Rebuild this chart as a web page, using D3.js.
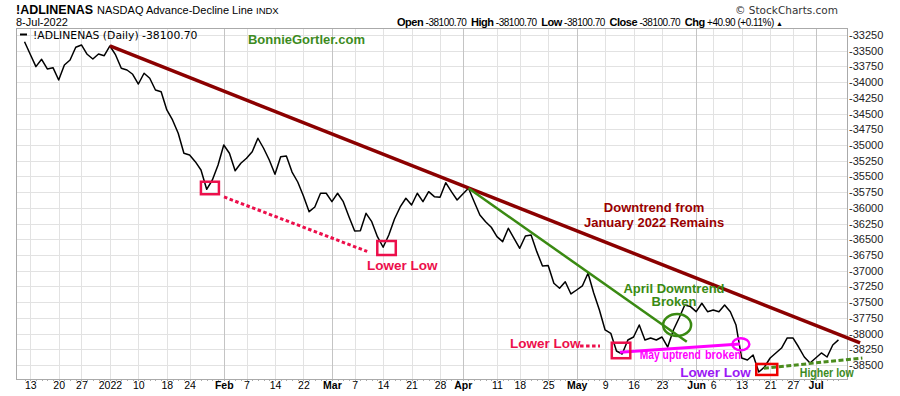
<!DOCTYPE html>
<html>
<head>
<meta charset="utf-8">
<script src="https://cdn.jsdelivr.net/npm/d3@7"></script>
<style>
  body { margin: 0; background: #fff; }
  svg { display: block; font-family: "Liberation Sans", Arial, sans-serif; }
</style>
</head>
<body>
<div id="chart"></div>
<script>
// trading days shown on the chart
const dates = [
  "2021-12-10","2021-12-13","2021-12-14","2021-12-15","2021-12-16","2021-12-17","2021-12-20","2021-12-21","2021-12-22","2021-12-23",
  "2021-12-27","2021-12-28","2021-12-29","2021-12-30","2021-12-31",
  "2022-01-03","2022-01-04","2022-01-05","2022-01-06","2022-01-07","2022-01-10","2022-01-11","2022-01-12","2022-01-13","2022-01-14",
  "2022-01-18","2022-01-19","2022-01-20","2022-01-21","2022-01-24","2022-01-25","2022-01-26","2022-01-27","2022-01-28","2022-01-31",
  "2022-02-01","2022-02-02","2022-02-03","2022-02-04","2022-02-07","2022-02-08","2022-02-09","2022-02-10","2022-02-11","2022-02-14",
  "2022-02-15","2022-02-16","2022-02-17","2022-02-18","2022-02-22","2022-02-23","2022-02-24","2022-02-25","2022-02-28",
  "2022-03-01","2022-03-02","2022-03-03","2022-03-04","2022-03-07","2022-03-08","2022-03-09","2022-03-10","2022-03-11","2022-03-14",
  "2022-03-15","2022-03-16","2022-03-17","2022-03-18","2022-03-21","2022-03-22","2022-03-23","2022-03-24","2022-03-25","2022-03-28",
  "2022-03-29","2022-03-30","2022-03-31",
  "2022-04-01","2022-04-04","2022-04-05","2022-04-06","2022-04-07","2022-04-08","2022-04-11","2022-04-12","2022-04-13","2022-04-14",
  "2022-04-18","2022-04-19","2022-04-20","2022-04-21","2022-04-22","2022-04-25","2022-04-26","2022-04-27","2022-04-28","2022-04-29",
  "2022-05-02","2022-05-03","2022-05-04","2022-05-05","2022-05-06","2022-05-09","2022-05-10","2022-05-11","2022-05-12","2022-05-13",
  "2022-05-16","2022-05-17","2022-05-18","2022-05-19","2022-05-20","2022-05-23","2022-05-24","2022-05-25","2022-05-26","2022-05-27",
  "2022-05-31",
  "2022-06-01","2022-06-02","2022-06-03","2022-06-06","2022-06-07","2022-06-08","2022-06-09","2022-06-10","2022-06-13","2022-06-14",
  "2022-06-15","2022-06-16","2022-06-17","2022-06-21","2022-06-22","2022-06-23","2022-06-24","2022-06-27","2022-06-28","2022-06-29",
  "2022-06-30",
  "2022-07-01","2022-07-05","2022-07-06","2022-07-07","2022-07-08"
];

// !ADLINENAS daily close
const values = [
  -33357,-33557,-33754,-33637,-33791,-33770,-33966,-33727,-33648,-33446,
  -33409,-33557,-33632,-33552,-33579,
  -33425,-33568,-33780,-33807,-33875,-34030,-33859,-33939,-34125,-34152,
  -34443,-34602,-34814,-35132,-35159,-35266,-35398,-35705,-35557,-35318,
  -35000,-35132,-35409,-35291,-35212,-35107,-34893,-35052,-35239,-35466,
  -35186,-35175,-35430,-35589,-35811,-36061,-35986,-35768,-35768,
  -35902,-35768,-35902,-36141,-36368,-36363,-36087,-36220,-36459,-36627,
  -36432,-36177,-35986,-35848,-35955,-35768,-35902,-35743,-35822,-35832,
  -35600,-35743,-35875,
  -35780,-35689,-35902,-36114,-36220,-36309,-36459,-36538,-36325,-36484,
  -36643,-36448,-36432,-36697,-36925,-36917,-37200,-37280,-37175,-37370,
  -37307,-37243,-37041,-37355,-37625,-37943,-37996,-38277,-38325,-38102,
  -38055,-37864,-38102,-38070,-38102,-38055,-38214,-37943,-37752,-37545,
  -37572,
  -37652,-37518,-37652,-37625,-37652,-37545,-37652,-37864,-38389,-38420,
  -38341,-38611,-38532,-38389,-38309,-38230,-38070,-38070,-38214,-38373,
  -38468,
  -38389,-38309,-38373,-38182,-38100.70
];

const tickDates = [
  "2021-12-13","2021-12-20","2021-12-27","2022-01-03","2022-01-10","2022-01-18","2022-01-24","2022-02-01",
  "2022-02-07","2022-02-14","2022-02-22","2022-03-01","2022-03-07","2022-03-14","2022-03-21","2022-03-28",
  "2022-04-01","2022-04-11","2022-04-18","2022-04-25","2022-05-02","2022-05-09","2022-05-16","2022-05-23",
  "2022-06-01","2022-06-06","2022-06-13","2022-06-21","2022-06-27","2022-07-01"
];
const tickLabels = [
  "13","20","27","2022","10","18","24","Feb","7","14","22","Mar","7","14","21","28",
  "Apr","11","18","25","May","9","16","23","Jun","6","13","21","27","Jul"
];
const yTicks = [
  -33250,-33500,-33750,-34000,-34250,-34500,-34750,-35000,-35250,-35500,-35750,
  -36000,-36250,-36500,-36750,-37000,-37250,-37500,-37750,-38000,-38250,-38500
];

// hand-drawn annotations, placed in chart terms: [date, day shift, value]
const pink = "#ec0f4b";
const annoLines = [
  { from: ["2022-01-03", 0, -33425], to: ["2022-07-08", 3.8, -38150], color: "#8b0000", width: 3.5 },
  { from: ["2022-04-04", 0, -35689], to: ["2022-05-27", 0.35, -38129], color: "#3a8a12", width: 2.5 },
  { from: ["2022-05-11", 0.6, -38298], to: ["2022-06-13", -0.3, -38166], color: "#ff00ff", width: 3 },
  { from: ["2022-02-01", 0.05, -35827], to: ["2022-03-09", 0.2, -36694], color: pink, width: 3, dash: "3.5,2.5" },
  { from: ["2022-05-02", 0.6, -38198], to: ["2022-05-06", 0.1, -38198], color: pink, width: 3, dash: "3.5,2.5" },
  { from: ["2022-06-17", -0.1, -38553], to: ["2022-07-08", 4.2, -38389], color: "#4b8c1e", width: 3, dash: "5,2.5" }
];
const annoBoxes = [
  { at: ["2022-01-27", 0.57, -35684], w: 18, h: 12.5, color: pink },
  { at: ["2022-03-14", 0.6, -36639], w: 18.5, h: 14, color: pink },
  { at: ["2022-05-12", -0.2, -38269], w: 18.5, h: 15.5, color: pink },
  { at: ["2022-06-17", 0.4, -38571], w: 21, h: 11, color: "#ee0000" }
];
const annoEllipses = [
  { at: ["2022-05-25", 0.65, -37864], rx: 14, ry: 11, color: "#3a8a12" },
  { at: ["2022-06-13", -0.15, -38171], rx: 8.5, ry: 6, color: "#ff00ff" }
];
const annoTexts = [
  { text: "BonnieGortler.com", at: ["2022-02-07", 0.25, -33398], anchor: "start", color: "#3d8b1e", size: 13 },
  { text: "Lower Low", at: ["2022-03-09", 0.17, -36989], anchor: "start", color: pink, size: 13.5 },
  { text: "Lower Low", at: ["2022-04-13", 0.3, -38222], anchor: "start", color: pink, size: 13.5 },
  { text: "Lower Low", at: ["2022-05-26", 0.2, -38691], anchor: "start", color: "#9b19f5", size: 13.5 },
  { text: "Higher low", at: ["2022-06-28", 0.2, -38695], anchor: "start", color: "#3d8b1e", size: 12, len: 54 },
  { text: "May uptrend", at: ["2022-05-17", 0.1, -38412], anchor: "start", color: "#ff00ff", size: 12, len: 61 },
  { text: "broken", at: ["2022-06-02", 0.55, -38412], anchor: "start", color: "#ff00ff", size: 12, len: 36 },
  { text: "April Downtrend", at: ["2022-05-25", 0.1, -37355], anchor: "middle", color: "#3a8a12", size: 13 },
  { text: "Broken", at: ["2022-05-25", 0.1, -37569], anchor: "middle", color: "#3a8a12", size: 13 },
  { text: "Downtrend from", at: ["2022-05-20", -0.4, -36070], anchor: "middle", color: "#990000", size: 13 },
  { text: "January 2022 Remains", at: ["2022-05-20", -0.4, -36300], anchor: "middle", color: "#990000", size: 13 }
];

const dimensions = {
  width: 900,
  height: 396,
  margin: { top: 28, right: 53, bottom: 17, left: 16 },
};
dimensions.boundedWidth = dimensions.width - dimensions.margin.left - dimensions.margin.right;
dimensions.boundedHeight = dimensions.height - dimensions.margin.top - dimensions.margin.bottom;

const svg = d3.select("#chart")
  .append("svg")
  .attr("width", dimensions.width)
  .attr("height", dimensions.height);

const xScale = d3.scaleLinear()
  .domain([-1.5, dates.length + 0.5])
  .range([0, dimensions.boundedWidth]);
const yScale = d3.scaleLinear()
  .domain([-38723, -33139])
  .range([dimensions.boundedHeight, 0]);

const dayIndex = (d) => dates.indexOf(d);
const px = (a) => xScale(dayIndex(a[0]) + a[1]);
const py = (a) => yScale(a[2]);

// header
const header = svg.append("g");
header.append("text").attr("x", 16).attr("y", 13.5)
  .attr("textLength", 77).attr("lengthAdjust", "spacingAndGlyphs")
  .style("font-size", "13px").style("font-weight", "bold").text("!ADLINENAS");
header.append("text").attr("x", 97).attr("y", 13.5)
  .style("font-size", "11px").text("NASDAQ Advance-Decline Line");
header.append("text").attr("x", 256).attr("y", 13.5)
  .style("font-size", "9.5px").text("INDX");
header.append("text").attr("x", 16).attr("y", 26)
  .style("font-size", "11px").text("8-Jul-2022");
header.append("text").attr("x", 838).attr("y", 14).attr("text-anchor", "end")
  .style("font-family", "DejaVu Sans").style("font-size", "10.5px").style("fill", "#333")
  .text("\u00a9 StockCharts.com");

const quote = header.append("text").attr("x", 397).attr("y", 26)
  .attr("textLength", 386).attr("lengthAdjust", "spacing");
[["Open", " -38100.70  "], ["High", " -38100.70  "], ["Low", " -38100.70  "],
 ["Close", " -38100.70  "], ["Chg", " +40.90 (+0.11%) "]].forEach(([k, v]) => {
  quote.append("tspan").style("font-size", "11px").style("font-weight", "bold").text(k);
  quote.append("tspan").style("font-size", "10px").style("white-space", "pre").text(v);
});
quote.append("tspan").style("font-size", "7px").text("\u25b2");

const bounds = svg.append("g")
  .attr("transform", `translate(${dimensions.margin.left}, ${dimensions.margin.top})`);

// grid
bounds.append("g").selectAll("line").data(yTicks).join("line")
  .attr("x1", 0).attr("x2", dimensions.boundedWidth)
  .attr("y1", (d) => Math.round(yScale(d)) + 0.5).attr("y2", (d) => Math.round(yScale(d)) + 0.5)
  .attr("stroke", "#e2e2e2");
const isMonth = (l) => isNaN(+l);
bounds.append("g").selectAll("line").data(tickDates).join("line")
  .attr("x1", (d) => Math.round(xScale(dayIndex(d))) + 0.5)
  .attr("x2", (d) => Math.round(xScale(dayIndex(d))) + 0.5)
  .attr("y1", 0).attr("y2", dimensions.boundedHeight)
  .attr("stroke", (d, i) => isMonth(tickLabels[i]) ? "#c4c4c4" : "#e2e2e2");

// day ticks under the plot
bounds.append("g").selectAll("line").data(dates).join("line")
  .attr("x1", (d, i) => Math.round(xScale(i)) + 0.5)
  .attr("x2", (d, i) => Math.round(xScale(i)) + 0.5)
  .attr("y1", dimensions.boundedHeight).attr("y2", dimensions.boundedHeight + 2)
  .attr("stroke", "#aaa");

bounds.append("rect")
  .attr("x", 0.5).attr("y", 0.5)
  .attr("width", dimensions.boundedWidth).attr("height", dimensions.boundedHeight)
  .attr("fill", "none").attr("stroke", "#aaa");

// axes
const yAxis = bounds.append("g")
  .attr("transform", `translate(${dimensions.boundedWidth}, 0)`)
  .call(d3.axisRight(yScale).tickValues(yTicks).tickSize(0).tickPadding(2).tickFormat((d) => String(d)));
yAxis.select(".domain").remove();
yAxis.selectAll("text").style("font-size", "11px").style("font-family", "Liberation Sans, Arial").attr("fill", "#222");

const xAxis = bounds.append("g")
  .attr("transform", `translate(0, ${dimensions.boundedHeight})`)
  .call(d3.axisBottom(xScale).tickValues(tickDates.map(dayIndex)).tickSize(0).tickPadding(3)
    .tickFormat((d, i) => tickLabels[i]));
xAxis.select(".domain").remove();
xAxis.selectAll("text")
  .style("font-size", "10.5px").style("font-family", "Liberation Sans, Arial")
  .style("font-weight", (d, i) => isMonth(tickLabels[i]) ? "bold" : "normal")
  .attr("fill", "#000");

// legend
bounds.append("line")
  .attr("x1", 4).attr("x2", 11).attr("y1", 6.5).attr("y2", 6.5)
  .attr("stroke", "#000").attr("stroke-width", 2);
bounds.append("text").attr("x", 17).attr("y", 10.5)
  .style("font-family", "DejaVu Sans").style("font-size", "10.8px")
  .text("!ADLINENAS (Daily) -38100.70");

// price line
const lineGenerator = d3.line()
  .x((d, i) => xScale(i))
  .y((d) => yScale(d));
bounds.append("path")
  .attr("d", lineGenerator(values))
  .attr("fill", "none")
  .attr("stroke", "#000")
  .attr("stroke-width", 1.5)
  .attr("stroke-linejoin", "round");

// annotations
const anno = bounds.append("g");
anno.selectAll("line").data(annoLines).join("line")
  .attr("x1", (d) => px(d.from)).attr("y1", (d) => py(d.from))
  .attr("x2", (d) => px(d.to)).attr("y2", (d) => py(d.to))
  .attr("stroke", (d) => d.color).attr("stroke-width", (d) => d.width)
  .attr("stroke-dasharray", (d) => d.dash || null);
anno.selectAll("rect").data(annoBoxes).join("rect")
  .attr("x", (d) => px(d.at) - d.w / 2).attr("y", (d) => py(d.at) - d.h / 2)
  .attr("width", (d) => d.w).attr("height", (d) => d.h)
  .attr("fill", "none").attr("stroke", (d) => d.color).attr("stroke-width", 2.5);
anno.selectAll("ellipse").data(annoEllipses).join("ellipse")
  .attr("cx", (d) => px(d.at)).attr("cy", (d) => py(d.at))
  .attr("rx", (d) => d.rx).attr("ry", (d) => d.ry)
  .attr("fill", "none").attr("stroke", (d) => d.color).attr("stroke-width", 2.5);
anno.selectAll("text").data(annoTexts).join("text")
  .attr("x", (d) => px(d.at)).attr("y", (d) => py(d.at))
  .attr("text-anchor", (d) => d.anchor)
  .attr("textLength", (d) => d.len || null)
  .attr("lengthAdjust", "spacingAndGlyphs")
  .attr("fill", (d) => d.color)
  .style("font-size", (d) => d.size + "px")
  .style("font-weight", "bold")
  .text((d) => d.text);
</script>
</body>
</html>
